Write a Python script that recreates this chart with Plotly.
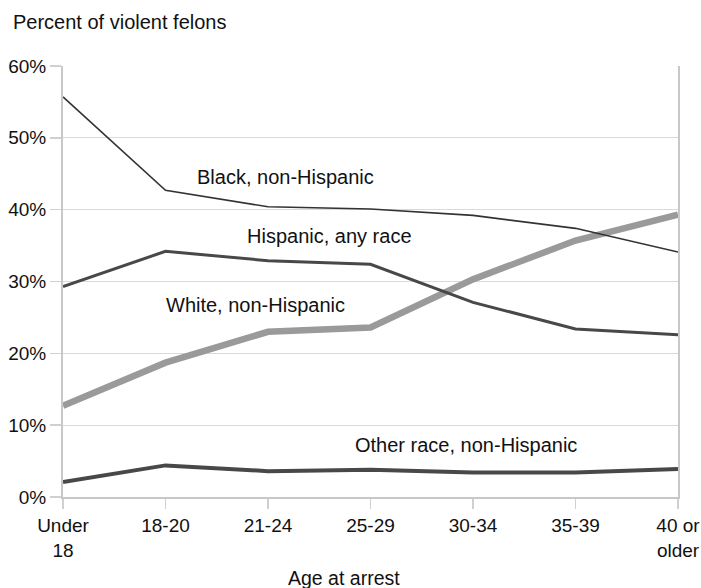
import plotly.graph_objects as go

categories = ["Under<br>18", "18-20", "21-24", "25-29", "30-34", "35-39", "40 or<br>older"]
black = [55.7, 42.7, 40.4, 40.1, 39.2, 37.4, 34.1]
hispanic = [29.3, 34.2, 32.9, 32.4, 27.1, 23.4, 22.6]
white = [12.7, 18.7, 23.0, 23.6, 30.3, 35.7, 39.3]
other = [2.1, 4.4, 3.6, 3.8, 3.4, 3.4, 3.9]
yticks = [0, 10, 20, 30, 40, 50, 60]
ytick_labels = ["0%", "10%", "20%", "30%", "40%", "50%", "60%"]

FONT = "Liberation Sans, Arial, sans-serif"
xs = list(range(len(categories)))

W, H = 701, 588

fig = go.Figure()
fig.add_trace(go.Scatter(x=xs, y=white, mode="lines", line=dict(color="#9a9a9a", width=6.5), hoverinfo="skip"))
fig.add_trace(go.Scatter(x=xs, y=other, mode="lines", line=dict(color="#484848", width=4), hoverinfo="skip"))
fig.add_trace(go.Scatter(x=xs, y=hispanic, mode="lines", line=dict(color="#484848", width=3), hoverinfo="skip"))
fig.add_trace(go.Scatter(x=xs, y=black, mode="lines", line=dict(color="#333333", width=1.6), hoverinfo="skip"))

ann = [
    ("Black, non-Hispanic", 2.175, 44.6),
    ("Hispanic, any race", 2.6, 36.4),
    ("White, non-Hispanic", 1.88, 26.7),
    ("Other race, non-Hispanic", 3.93, 7.2),
]
for t, x, y in ann:
    fig.add_annotation(text=t, x=x, y=y, xref="x", yref="y", showarrow=False,
                       font=dict(size=20, color="#111111", family=FONT))

fig.add_annotation(text="Age at arrest", x=2.74, y=-0.188, xref="x", yref="paper",
                   showarrow=False, yanchor="middle",
                   font=dict(size=19.5, color="#111111", family=FONT))

fig.update_layout(
    width=W, height=H,
    margin=dict(l=63, r=23, t=66, b=91, autoexpand=False),
    paper_bgcolor="white", plot_bgcolor="white",
    showlegend=False,
    font=dict(family=FONT, size=19, color="#111111"),
    title=dict(text="Percent of violent felons", x=13/W, xanchor="left",
               xref="container", y=1 - 22/H, yanchor="middle", yref="container",
               font=dict(size=20, color="#111111", family=FONT)),
    xaxis=dict(range=[0, 6], tickvals=xs, ticktext=categories, showgrid=False,
               zeroline=False, showline=True, linecolor="#c8c8c8", linewidth=2,
               ticks="outside", ticklen=10, tickcolor="#d0d0d0", tickwidth=1.5,
               tickfont=dict(size=19, color="#111111")),
    yaxis=dict(range=[0, 60], tickvals=yticks, ticktext=ytick_labels, showgrid=True,
               gridcolor="#dadada", gridwidth=1.3, zeroline=False, showline=True,
               linecolor="#c8c8c8", linewidth=2, mirror=True,
               ticks="outside", ticklen=11, tickcolor="#d0d0d0", tickwidth=1.5,
               tickfont=dict(size=19, color="#111111")),
)

fig.write_html("out.html", config={"displayModeBar": False, "staticPlot": True},
               post_script="document.body.style.margin='0px';document.body.style.overflow='hidden';")
